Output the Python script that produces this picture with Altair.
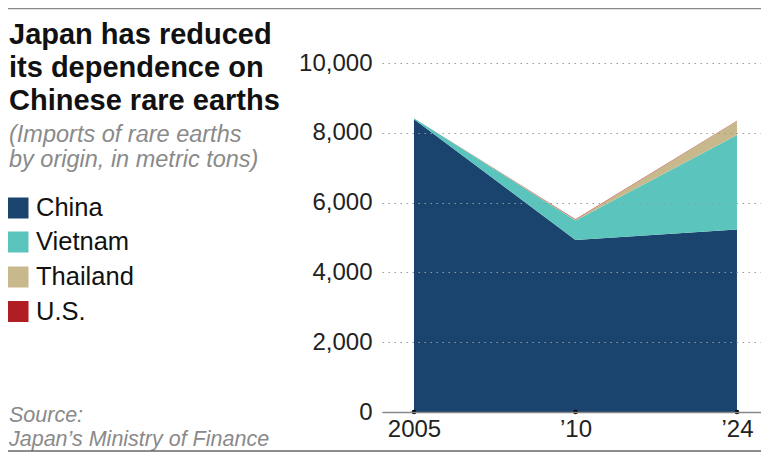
import altair as alt
import pandas as pd

years = ["2005", "\u201910", "\u201924"]
countries = ["China", "Vietnam", "Thailand", "U.S."]
china = [8390, 4930, 5230]
vietnam = [30, 560, 2710]
thailand = [0, 20, 400]
us = [0, 15, 5]
colors = ["#1a436e", "#5bc5bd", "#c8b98c", "#b01e23"]

title_lines = ["Japan has reduced", "its dependence on", "Chinese rare earths"]
subtitle_lines = ["(Imports of rare earths", "by origin, in metric tons)"]
source_lines = ["Source:", "Japan\u2019s Ministry of Finance"]
y_ticks = [0, 2000, 4000, 6000, 8000, 10000]

rows = []
for ci, (c, vals) in enumerate(zip(countries, [china, vietnam, thailand, us])):
    for yr, v in zip(years, vals):
        rows.append({"year": yr, "country": c, "tons": v, "ord": ci})
df = pd.DataFrame(rows)

FONT = "Liberation Sans"
W, H = 379, 349

xscale = alt.Scale(type="point", padding=0.1734, align=0.571)
xs = alt.X("year:N", sort=years, scale=xscale,
           axis=alt.Axis(title=None, labelAngle=0, labelFont=FONT, labelFontSize=24,
                         labelColor="#222", labelPadding=5, ticks=False,
                         domainColor="#888", domainWidth=1.5, grid=False, zindex=2))
ys = alt.Y("tons:Q", stack="zero",
           scale=alt.Scale(domain=[0, 10000], nice=False),
           axis=alt.Axis(title=None, values=y_ticks, format=",.0f", labelFont=FONT,
                         labelFontSize=24, labelColor="#222", labelPadding=10,
                         ticks=False, domain=False, grid=True, gridDash=[1.5, 4.5],
                         gridColor="#999", gridWidth=1, zindex=1))

area = alt.Chart(df).mark_area(interpolate="linear").encode(
    x=xs, y=ys,
    color=alt.Color("country:N", scale=alt.Scale(domain=countries, range=colors), legend=None),
    order=alt.Order("ord:Q", sort="ascending"),
)

dots = alt.Chart(pd.DataFrame({"year": years})).mark_circle(color="#000", size=22, opacity=1).encode(
    x=alt.X("year:N", sort=years, scale=xscale), y=alt.value(H)
)

def txt(s, x, y, size, color, weight="normal", style="normal", baseline="alphabetic"):
    return alt.Chart(pd.DataFrame({"t": [s]})).mark_text(
        align="left", baseline=baseline, font=FONT, fontSize=size, color=color,
        fontWeight=weight, fontStyle=style
    ).encode(text="t:N", x=alt.value(x), y=alt.value(y))

layers = [area, dots]
for line, yy in zip(title_lines, [-19, 14, 47]):
    layers.append(txt(line, -373, yy, 29, "#111", weight="bold"))
for line, yy in zip(subtitle_lines, [78.5, 103.5]):
    layers.append(txt(line, -373, yy, 23.5, "#8a8a8a", style="italic"))
for line, yy in zip(source_lines, [359, 383]):
    layers.append(txt(line, -373, yy, 21.5, "#8a8a8a", style="italic"))
for c, col, yy in zip(countries, colors, [145, 179, 214, 248.5]):
    layers.append(alt.Chart(pd.DataFrame({"c": [c]})).mark_square(
        size=441, color=col, opacity=1).encode(x=alt.value(-364), y=alt.value(yy)))
    layers.append(txt(c, -346, yy, 25.5, "#111", baseline="middle"))

frame = pd.DataFrame({"a": [0]})
layers.append(alt.Chart(frame).mark_rule(color="#888", strokeWidth=1.5).encode(
    x=alt.value(-374), x2=alt.value(W), y=alt.value(-54.5)))
layers.append(alt.Chart(frame).mark_rule(color="#666", strokeWidth=1.5).encode(
    x=alt.value(-374), x2=alt.value(W), y=alt.value(388)))

chart = alt.layer(*layers).properties(
    width=W, height=H,
    padding={"left": 374, "top": 55, "right": 0, "bottom": 40},
    autosize=alt.AutoSizeParams(type="none"),
).configure_view(stroke=None)

chart.save("out.html", embed_options={"renderer": "svg", "actions": False})
